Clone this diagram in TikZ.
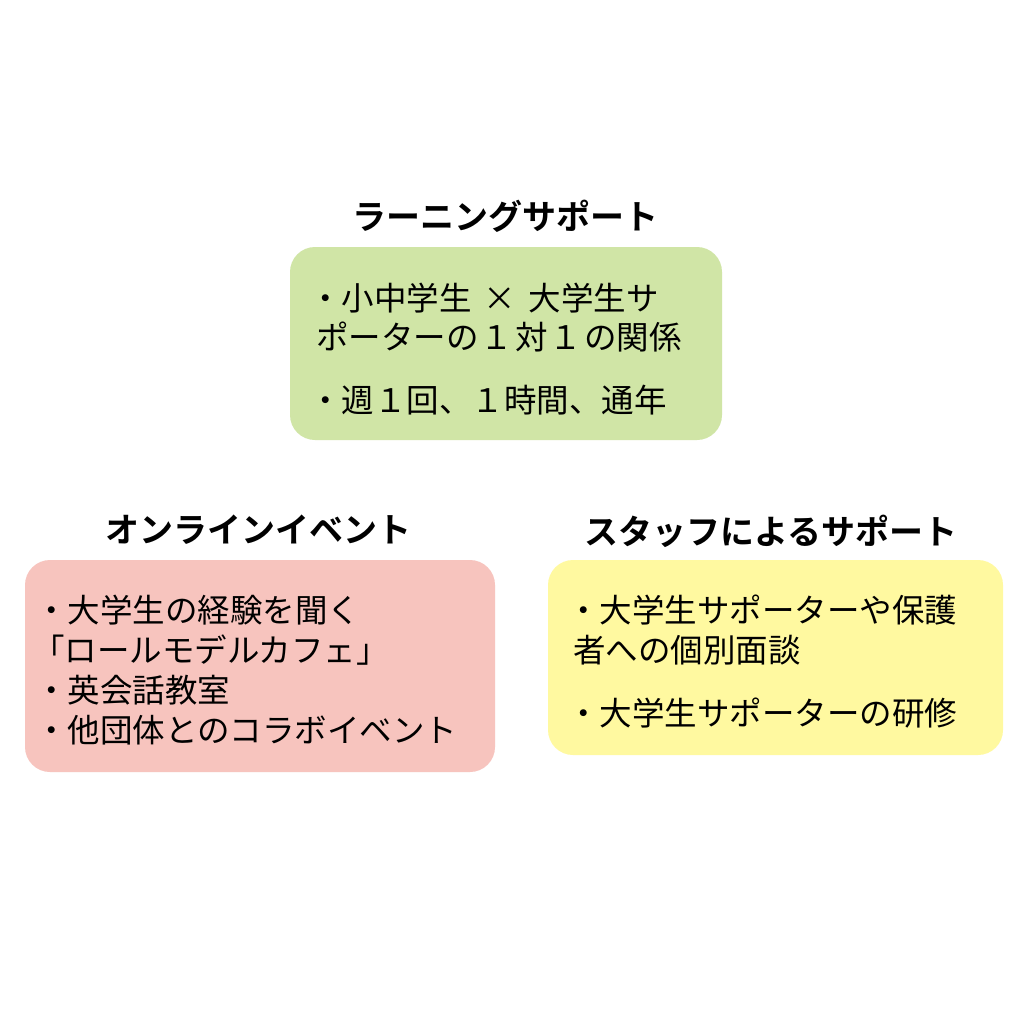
\documentclass[tikz,border=0pt]{standalone}
\usepackage{fontspec}
\setmainfont{Noto Sans CJK JP}[BoldFont={* Bold}]
\definecolor{boxgreen}{RGB}{208,229,166}
\definecolor{boxpink}{RGB}{247,196,190}
\definecolor{boxyellow}{RGB}{255,249,160}
\begin{document}
\begin{tikzpicture}[x=1pt,y=-1pt,
  panel/.style={rounded corners=25pt,draw=none},
  heading/.style={inner sep=0pt,font=\fontsize{34}{40}\selectfont\bfseries,text=black},
  bodyline/.style={inner sep=0pt,anchor=west,font=\fontsize{32.5}{40}\selectfont,text=black}]
\useasboundingbox[fill=white] (0,0) rectangle (1024,1024);
% panels
\path[panel,fill=boxgreen] (290,247) rectangle (722,440);
\node[inner sep=0pt] (gbox) at (506,343.5) {};
\path[panel,fill=boxpink] (25,560) rectangle (495,772);
\node[inner sep=0pt] (pbox) at (260,666) {};
\path[panel,fill=boxyellow] (548,560) rectangle (1003,755);
\node[inner sep=0pt] (ybox) at (775.5,657.5) {};
% headings
\node[heading] (gtitle) at (505,216) {ラーニングサポート};
\node[heading] (ptitle) at (258,530) {オンラインイベント};
\node[heading] (ytitle) at (771,531) {スタッフによるサポート};
% green text
\node[bodyline] (g1) at (309,298) {・小中学生\hspace{5pt} × \hspace{5pt}大学生サ};
\node[bodyline] (g2) at (316,337) {ポーターの\hspace{2pt}１\hspace{2pt}対\hspace{2pt}１\hspace{2pt}の関係};
\node[bodyline] (g3) at (309,400) {・週１回、１時間、通年};
% pink text
\node[bodyline] (p1) at (35,610) {・大学生の経験を聞く};
\node[bodyline] (p2) at (32,650) {「ロールモデルカフェ」};
\node[bodyline] (p3) at (35,690) {・英会話教室};
\node[bodyline] (p4) at (35,730) {・他団体とのコラボイベント};
% yellow text
\node[bodyline] (y1) at (567,610) {・大学生サポーターや保護};
\node[bodyline] (y2) at (573,650) {者への個別面談};
\node[bodyline] (y3) at (567,713) {・大学生サポーターの研修};
\end{tikzpicture}
\end{document}
